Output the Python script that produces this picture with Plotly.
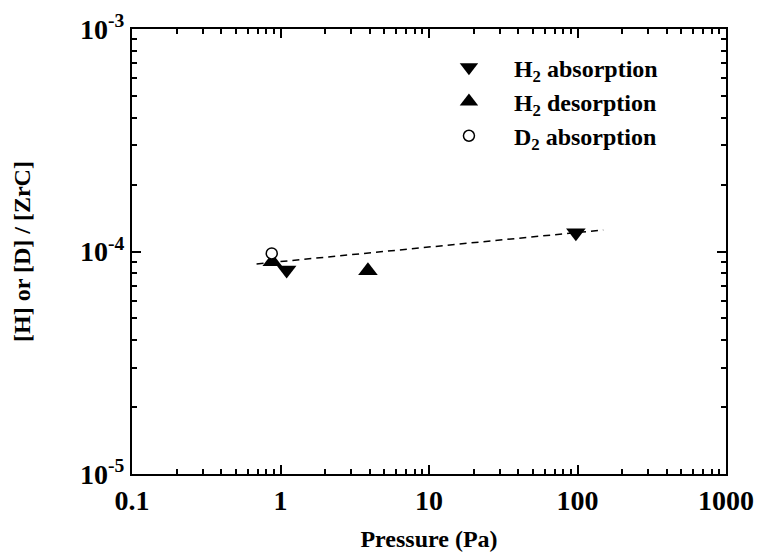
import plotly.graph_objects as go

# Data
h2_abs_p = [1.10, 97.5]
h2_abs_c = [0.826e-4, 1.215e-4]
h2_des_p = [0.88, 3.88]
h2_des_c = [0.90e-4, 0.82e-4]
d2_abs_p = [0.873]
d2_abs_c = [0.98e-4]
fit_p = [0.69, 149]
fit_c = [0.879e-4, 1.25e-4]

x_tickvals = [0.1, 1, 10, 100, 1000]
x_ticktext = ["0.1", "1", "10", "100", "1000"]
y_tickvals = [1e-5, 1e-4, 1e-3]
y_ticktext = ["10<sup>-5</sup>", "10<sup>-4</sup>", "10<sup>-3</sup>"]

FONT = "Liberation Serif"

fig = go.Figure()
fig.add_trace(go.Scatter(x=fit_p, y=fit_c, mode="lines", showlegend=False,
                         line=dict(color="black", width=1.5, dash="7px,5px")))
fig.add_trace(go.Scatter(x=h2_abs_p, y=h2_abs_c, mode="markers", name="H<sub>2</sub> absorption",
                         marker=dict(symbol="triangle-down", size=17, color="black")))
fig.add_trace(go.Scatter(x=h2_des_p, y=h2_des_c, mode="markers", name="H<sub>2</sub> desorption",
                         marker=dict(symbol="triangle-up", size=17, color="black")))
fig.add_trace(go.Scatter(x=d2_abs_p, y=d2_abs_c, mode="markers", name="D<sub>2</sub> absorption",
                         marker=dict(symbol="circle", size=11, color="white",
                                     line=dict(color="black", width=1.5))))

minor_x = [m * 10 ** e for e in range(-1, 3) for m in range(2, 10)]
minor_y = [m * 10 ** e for e in range(-5, -3) for m in range(2, 10)]

axis_common = dict(showline=True, linecolor="black", linewidth=2, mirror="ticks",
                   ticks="inside", ticklen=9, tickwidth=1.5, tickcolor="black",
                   showgrid=False, zeroline=False, automargin=False,
                   tickfont=dict(family=FONT, size=28, color="black", weight="bold"))

fig.update_xaxes(type="log", range=[-1, 3], tickmode="array", tickvals=x_tickvals,
                 ticktext=x_ticktext,
                 minor=dict(tickmode="array", tickvals=minor_x, ticks="inside", ticklen=5,
                            tickwidth=1.5, tickcolor="black", showgrid=False),
                 title=dict(text="Pressure (Pa)", standoff=16,
                            font=dict(family=FONT, size=24, color="black", weight="bold")),
                 **axis_common)
fig.update_yaxes(type="log", range=[-5, -3], tickmode="array", tickvals=y_tickvals,
                 ticktext=y_ticktext,
                 minor=dict(tickmode="array", tickvals=minor_y, ticks="inside", ticklen=5,
                            tickwidth=1.5, tickcolor="black", showgrid=False),
                 title=dict(text="[H] or [D] / [ZrC]", standoff=43,
                            font=dict(family=FONT, size=24, color="black", weight="bold")),
                 **axis_common)

fig.update_layout(width=755, height=548, margin=dict(l=124, r=37, t=21, b=82),
                  plot_bgcolor="white", paper_bgcolor="white",
                  legend=dict(x=0.4915, y=0.9635, xanchor="left", yanchor="top",
                              bgcolor="rgba(0,0,0,0)", itemwidth=80,
                              font=dict(family=FONT, size=24, color="black", weight="bold"),
                              tracegroupgap=0))

fig.write_html("out.html")
